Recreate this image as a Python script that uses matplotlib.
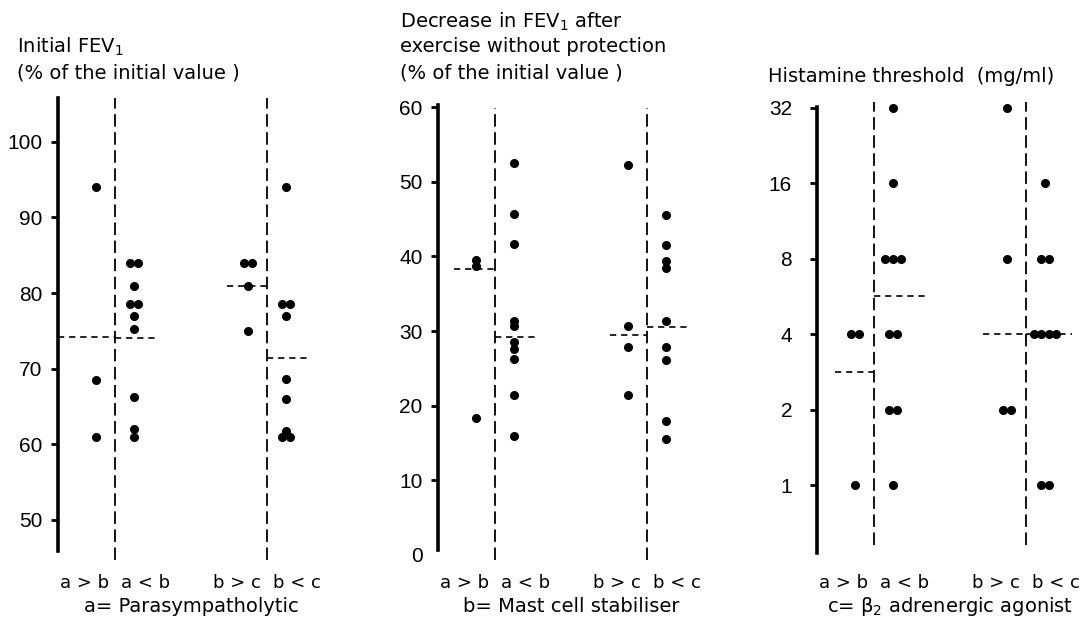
import numpy as np
import matplotlib.pyplot as plt
from matplotlib.transforms import blended_transform_factory

plt.rcParams['font.family'] = ['DejaVu Sans']
plt.rcParams['lines.scale_dashes'] = False

# group order in every panel
groups = ["a > b", "a < b", "b > c", "b < c"]
group_x = [0, 1, 4, 5]
dividers = [0.5, 4.5]

# panel 1: initial FEV1 (% of initial value)
fev_initial = [
    [94, 68.5, 61],
    [84, 84, 81, 78.5, 78.5, 77, 75.2, 66.3, 62, 61],
    [84, 84, 81, 75],
    [94, 78.5, 78.5, 77, 68.7, 66, 61.8, 61, 61],
]
fev_initial_med = [74.2, 74.0, 81, 71.4]

# panel 2: decrease in FEV1 after exercise (%)
fev_drop = [
    [39.5, 38.7, 18.3],
    [52.5, 45.7, 41.7, 31.3, 30.7, 28.5, 27.6, 26.3, 21.4, 15.9],
    [52.3, 30.7, 27.8, 21.4],
    [45.6, 41.5, 39.4, 38.5, 31.4, 27.8, 26.1, 18.0, 15.6],
]
fev_drop_med = [38.3, 29.2, 29.5, 30.6]

# panel 3: histamine threshold (mg/ml)
histamine = [
    [4, 4, 1],
    [32, 16, 8, 8, 8, 4, 4, 2, 2, 1],
    [32, 8, 2, 2],
    [16, 8, 8, 4, 4, 4, 4, 1, 1],
]
histamine_med = [2.83, 5.66, 4, 4]

titles = [
    ["Initial FEV$_1$", "(% of the initial value )"],
    ["Decrease in FEV$_1$ after", "exercise without protection", "(% of the initial value )"],
    ["Histamine threshold  (mg/ml)"],
]
sublabels = ["a= Parasympatholytic", "b= Mast cell stabiliser", "c= \u03b2$_2$ adrenergic agonist"]

W, H = 1085, 622
fig = plt.figure(figsize=(W / 100, H / 100), dpi=100)


def px_axes(left, top, bottom, width=266):
    return fig.add_axes([left / W, 1 - bottom / H, width / W, (bottom - top) / H])


def draw_panel(ax, data, medians, med_ext, div_span):
    for gx, vals in zip(group_x, data):
        vals = np.array(vals, dtype=float)
        xs = np.zeros(len(vals))
        for v in np.unique(vals):
            idx = np.where(vals == v)[0]
            n = len(idx)
            xs[idx] = gx + (np.arange(n) - (n - 1) / 2) * 0.2
        ax.plot(xs, vals, 'o', color='black', ms=5.5, clip_on=False)
    for d in dividers:
        ax.axvline(d, ymin=div_span[0], ymax=div_span[1], color='black', lw=1.3,
                   dashes=(9, 4), clip_on=False)
    for m, (x0, x1) in zip(medians, med_ext):
        ax.plot([x0, x1], [m, m], color='black', lw=1.2, dashes=(4.5, 3.5), clip_on=False)
    ax.set_xlim(-1, 6)
    ax.set_xticks([])
    for s in ['top', 'right', 'bottom']:
        ax.spines[s].set_visible(False)
    ax.spines['left'].set_linewidth(2.6)
    ax.patch.set_visible(False)


def labels(ax, title_x, title_ys, title, sub):
    tr = blended_transform_factory(ax.transData, fig.transFigure)
    for i, d in enumerate(dividers):
        ax.text(d - 0.8, 1 - 583 / H, groups[i * 2], transform=tr,
                ha='center', va='center', fontsize=13)
        ax.text(d + 0.8, 1 - 583 / H, groups[i * 2 + 1], transform=tr,
                ha='center', va='center', fontsize=13)
    ax.text(2.5, 1 - 607 / H, sub, transform=tr, ha='center', va='center', fontsize=14)
    for line, y in zip(title, title_ys):
        fig.text(title_x / W, 1 - y / H, line, ha='left', va='center', fontsize=14)


# panel 1
ax1 = px_axes(58, 98, 551)
draw_panel(ax1, fev_initial, fev_initial_med,
           [(-1, 0.5), (0.5, 1.66), (3.45, 4.5), (4.5, 5.6)], (-0.02, 1.0))
ax1.set_ylim(45.9, 105.8)
ax1.set_yticks([50, 60, 70, 80, 90, 100])
labels(ax1, 17, [47, 73], titles[0], sublabels[0])

# panel 2
ax2 = px_axes(438, 105, 555)
draw_panel(ax2, fev_drop, fev_drop_med,
           [(-0.58, 0.5), (0.5, 1.58), (3.53, 4.5), (4.5, 5.63)], (-0.011, 0.993))
ax2.set_ylim(0, 60.27)
ax2.set_yticks([0, 10, 20, 30, 40, 50, 60])
ax2.spines['left'].set_bounds(0.7, 60.27)
labels(ax2, 400, [22, 47, 73], titles[1], sublabels[1])

# panel 3
ax3 = px_axes(817, 107, 553)
ax3.set_yscale('log', base=2)
draw_panel(ax3, histamine, histamine_med,
           [(-0.53, 0.5), (0.5, 1.84), (3.37, 4.5), (4.5, 5.71)], (0.018, 1.011))
ax3.set_ylim(2 ** -0.9, 2 ** (5 + 1 / 75.5))
ax3.set_yticks([1, 2, 4, 8, 16, 32])
ax3.set_yticklabels(['1', '2', '4', '8', '16', '32'])
ax3.minorticks_off()
labels(ax3, 768, [76], titles[2], sublabels[2])

for ax, pad in [(ax1, 6), (ax2, 6), (ax3, 13)]:
    ax.tick_params(axis='y', length=5, width=2, pad=pad, labelsize=15)
    for t in ax.get_yticklabels():
        t.set_family('Liberation Sans')
ax2.yaxis.get_major_ticks()[0].tick1line.set_visible(False)

fig.savefig('out.png', dpi=100)
